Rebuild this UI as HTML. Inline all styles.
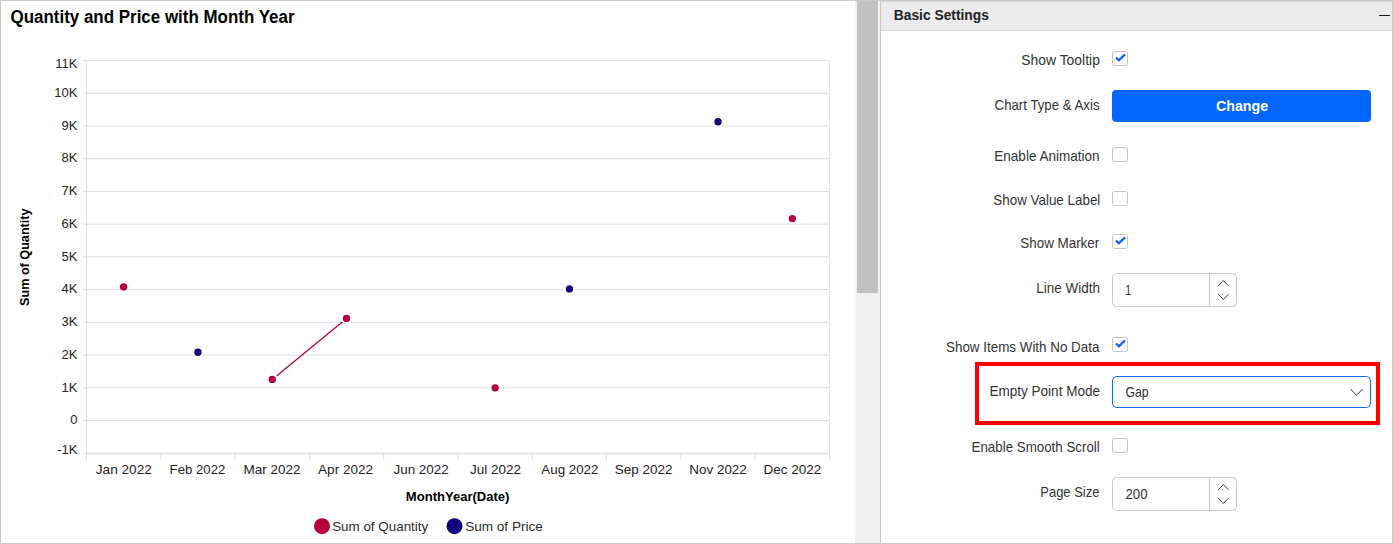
<!DOCTYPE html>
<html><head><meta charset="utf-8"><style>
html,body{margin:0;padding:0;background:#fff;overflow:hidden}
svg{display:block;font-family:"Liberation Sans", sans-serif}
</style></head><body>
<svg width="1393" height="544" viewBox="0 0 1393 544">
<rect x="0" y="0" width="1393" height="544" fill="#fff"/>
<text x="10.50" y="23" font-size="18.3" font-weight="bold" fill="#000" textLength="283.98" lengthAdjust="spacingAndGlyphs">Quantity and Price with Month Year</text>
<line x1="86.5" y1="453.23" x2="829.5" y2="453.23" stroke="#dedede" stroke-width="1"/>
<line x1="83.5" y1="453.23" x2="86.5" y2="453.23" stroke="#d6d6d6" stroke-width="1"/>
<line x1="86.5" y1="420.50" x2="829.5" y2="420.50" stroke="#dedede" stroke-width="1"/>
<line x1="83.5" y1="420.50" x2="86.5" y2="420.50" stroke="#d6d6d6" stroke-width="1"/>
<line x1="86.5" y1="387.77" x2="829.5" y2="387.77" stroke="#dedede" stroke-width="1"/>
<line x1="83.5" y1="387.77" x2="86.5" y2="387.77" stroke="#d6d6d6" stroke-width="1"/>
<line x1="86.5" y1="355.05" x2="829.5" y2="355.05" stroke="#dedede" stroke-width="1"/>
<line x1="83.5" y1="355.05" x2="86.5" y2="355.05" stroke="#d6d6d6" stroke-width="1"/>
<line x1="86.5" y1="322.32" x2="829.5" y2="322.32" stroke="#dedede" stroke-width="1"/>
<line x1="83.5" y1="322.32" x2="86.5" y2="322.32" stroke="#d6d6d6" stroke-width="1"/>
<line x1="86.5" y1="289.59" x2="829.5" y2="289.59" stroke="#dedede" stroke-width="1"/>
<line x1="83.5" y1="289.59" x2="86.5" y2="289.59" stroke="#d6d6d6" stroke-width="1"/>
<line x1="86.5" y1="256.86" x2="829.5" y2="256.86" stroke="#dedede" stroke-width="1"/>
<line x1="83.5" y1="256.86" x2="86.5" y2="256.86" stroke="#d6d6d6" stroke-width="1"/>
<line x1="86.5" y1="224.14" x2="829.5" y2="224.14" stroke="#dedede" stroke-width="1"/>
<line x1="83.5" y1="224.14" x2="86.5" y2="224.14" stroke="#d6d6d6" stroke-width="1"/>
<line x1="86.5" y1="191.41" x2="829.5" y2="191.41" stroke="#dedede" stroke-width="1"/>
<line x1="83.5" y1="191.41" x2="86.5" y2="191.41" stroke="#d6d6d6" stroke-width="1"/>
<line x1="86.5" y1="158.68" x2="829.5" y2="158.68" stroke="#dedede" stroke-width="1"/>
<line x1="83.5" y1="158.68" x2="86.5" y2="158.68" stroke="#d6d6d6" stroke-width="1"/>
<line x1="86.5" y1="125.95" x2="829.5" y2="125.95" stroke="#dedede" stroke-width="1"/>
<line x1="83.5" y1="125.95" x2="86.5" y2="125.95" stroke="#d6d6d6" stroke-width="1"/>
<line x1="86.5" y1="93.23" x2="829.5" y2="93.23" stroke="#dedede" stroke-width="1"/>
<line x1="83.5" y1="93.23" x2="86.5" y2="93.23" stroke="#d6d6d6" stroke-width="1"/>
<line x1="86.5" y1="60.50" x2="829.5" y2="60.50" stroke="#e6e6e6" stroke-width="1"/>
<line x1="83.5" y1="60.50" x2="86.5" y2="60.50" stroke="#d6d6d6" stroke-width="1"/>
<line x1="86.5" y1="60" x2="86.5" y2="454" stroke="#dedede" stroke-width="1"/>
<line x1="829.5" y1="60" x2="829.5" y2="454" stroke="#e6e6e6" stroke-width="1"/>
<line x1="86" y1="453.8" x2="830" y2="453.8" stroke="#dedede" stroke-width="1"/>
<line x1="86.50" y1="454" x2="86.50" y2="460" stroke="#dedede" stroke-width="1"/>
<line x1="160.80" y1="454" x2="160.80" y2="460" stroke="#dedede" stroke-width="1"/>
<line x1="235.10" y1="454" x2="235.10" y2="460" stroke="#dedede" stroke-width="1"/>
<line x1="309.40" y1="454" x2="309.40" y2="460" stroke="#dedede" stroke-width="1"/>
<line x1="383.70" y1="454" x2="383.70" y2="460" stroke="#dedede" stroke-width="1"/>
<line x1="458.00" y1="454" x2="458.00" y2="460" stroke="#dedede" stroke-width="1"/>
<line x1="532.30" y1="454" x2="532.30" y2="460" stroke="#dedede" stroke-width="1"/>
<line x1="606.60" y1="454" x2="606.60" y2="460" stroke="#dedede" stroke-width="1"/>
<line x1="680.90" y1="454" x2="680.90" y2="460" stroke="#dedede" stroke-width="1"/>
<line x1="755.20" y1="454" x2="755.20" y2="460" stroke="#dedede" stroke-width="1"/>
<line x1="829.50" y1="454" x2="829.50" y2="460" stroke="#dedede" stroke-width="1"/>
<text x="77.4" y="454.00" font-size="13" fill="#222" text-anchor="end">-1K</text>
<text x="77.4" y="424.30" font-size="13" fill="#222" text-anchor="end">0</text>
<text x="77.4" y="391.57" font-size="13" fill="#222" text-anchor="end">1K</text>
<text x="77.4" y="358.85" font-size="13" fill="#222" text-anchor="end">2K</text>
<text x="77.4" y="326.12" font-size="13" fill="#222" text-anchor="end">3K</text>
<text x="77.4" y="293.39" font-size="13" fill="#222" text-anchor="end">4K</text>
<text x="77.4" y="260.66" font-size="13" fill="#222" text-anchor="end">5K</text>
<text x="77.4" y="227.94" font-size="13" fill="#222" text-anchor="end">6K</text>
<text x="77.4" y="195.21" font-size="13" fill="#222" text-anchor="end">7K</text>
<text x="77.4" y="162.48" font-size="13" fill="#222" text-anchor="end">8K</text>
<text x="77.4" y="129.75" font-size="13" fill="#222" text-anchor="end">9K</text>
<text x="77.4" y="97.03" font-size="13" fill="#222" text-anchor="end">10K</text>
<text x="77.4" y="67.80" font-size="13" fill="#222" text-anchor="end">11K</text>
<text x="95.80" y="474" font-size="13" fill="#222" textLength="56.02" lengthAdjust="spacingAndGlyphs">Jan 2022</text>
<text x="169.59" y="474" font-size="13" fill="#222" textLength="55.75" lengthAdjust="spacingAndGlyphs">Feb 2022</text>
<text x="243.46" y="474" font-size="13" fill="#222" textLength="57.16" lengthAdjust="spacingAndGlyphs">Mar 2022</text>
<text x="318.10" y="474" font-size="13" fill="#222" textLength="54.90" lengthAdjust="spacingAndGlyphs">Apr 2022</text>
<text x="393.50" y="474" font-size="13" fill="#222" textLength="55.22" lengthAdjust="spacingAndGlyphs">Jun 2022</text>
<text x="469.90" y="474" font-size="13" fill="#222" textLength="51.06" lengthAdjust="spacingAndGlyphs">Jul 2022</text>
<text x="541.30" y="474" font-size="13" fill="#222" textLength="57.19" lengthAdjust="spacingAndGlyphs">Aug 2022</text>
<text x="614.86" y="474" font-size="13" fill="#222" textLength="57.73" lengthAdjust="spacingAndGlyphs">Sep 2022</text>
<text x="689.16" y="474" font-size="13" fill="#222" textLength="57.72" lengthAdjust="spacingAndGlyphs">Nov 2022</text>
<text x="763.56" y="474" font-size="13" fill="#222" textLength="57.72" lengthAdjust="spacingAndGlyphs">Dec 2022</text>
<text x="405.88" y="500.8" font-size="12.8" font-weight="bold" fill="#000" textLength="103.60" lengthAdjust="spacingAndGlyphs">MonthYear(Date)</text>
<text transform="translate(29.3,306.00) rotate(-90)" x="0" y="0" font-size="12.9" font-weight="bold" fill="#000" textLength="97.56" lengthAdjust="spacingAndGlyphs">Sum of Quantity</text>
<line x1="272.25" y1="379.4" x2="346.55" y2="318.4" stroke="#b5003c" stroke-width="1.3"/>
<circle cx="123.65" cy="286.9" r="4.7" fill="#b5003c" stroke="#fff" stroke-width="2"/>
<circle cx="197.95" cy="352.2" r="4.7" fill="#14007f" stroke="#fff" stroke-width="2"/>
<circle cx="272.25" cy="379.4" r="4.7" fill="#b5003c" stroke="#fff" stroke-width="2"/>
<circle cx="346.55" cy="318.4" r="4.7" fill="#b5003c" stroke="#fff" stroke-width="2"/>
<circle cx="495.15" cy="387.85" r="4.7" fill="#b5003c" stroke="#fff" stroke-width="2"/>
<circle cx="569.45" cy="288.9" r="4.7" fill="#14007f" stroke="#fff" stroke-width="2"/>
<circle cx="718.05" cy="121.7" r="4.7" fill="#14007f" stroke="#fff" stroke-width="2"/>
<circle cx="792.35" cy="218.6" r="4.7" fill="#b5003c" stroke="#fff" stroke-width="2"/>
<circle cx="322" cy="526.2" r="8" fill="#b5003c"/>
<text x="332.16" y="530.6" font-size="12.9" fill="#2a2a2a" textLength="96.05" lengthAdjust="spacingAndGlyphs">Sum of Quantity</text>
<circle cx="454.5" cy="526.2" r="8" fill="#14007f"/>
<text x="465.15" y="530.6" font-size="12.9" fill="#2a2a2a" textLength="77.69" lengthAdjust="spacingAndGlyphs">Sum of Price</text>
<rect x="855" y="1" width="25" height="542" fill="#f0f0f0"/>
<rect x="857" y="1" width="21" height="292" fill="#c1c1c1"/>
<rect x="880" y="1" width="1" height="542" fill="#c8c8c8"/>
<rect x="881" y="1" width="511" height="29" fill="#ebebeb"/>
<rect x="881" y="1" width="511" height="1" fill="#d2d2d2"/>
<rect x="881" y="30" width="511" height="1" fill="#cfcfcf"/>
<text x="893.75" y="20.1" font-size="14.5" font-weight="bold" fill="#222" textLength="95.18" lengthAdjust="spacingAndGlyphs">Basic Settings</text>
<rect x="1379" y="15" width="11" height="1" fill="#1a1a1a"/>
<rect x="0.5" y="0.5" width="1392" height="543" fill="none" stroke="#c8c8c8" stroke-width="1"/>
<text x="1021.20" y="64.8" font-size="13.9" fill="#333" textLength="78.72" lengthAdjust="spacingAndGlyphs">Show Tooltip</text>
<rect x="1112.5" y="51.5" width="15" height="14" rx="2" fill="#fff" stroke="#c4c4c4" stroke-width="1"/>
<polyline points="1116,57.5 1119,60.3 1125,54.4" fill="none" stroke="#0d5eff" stroke-width="2.2"/>
<text x="994.60" y="109.9" font-size="13.9" fill="#333" textLength="104.95" lengthAdjust="spacingAndGlyphs">Chart Type &amp; Axis</text>
<rect x="1112" y="90" width="259" height="32" rx="4" fill="#0566ff"/>
<text x="1216.00" y="110.7" font-size="14.9" font-weight="bold" fill="#fff" textLength="52.08" lengthAdjust="spacingAndGlyphs">Change</text>
<text x="994.33" y="160.8" font-size="13.9" fill="#333" textLength="105.19" lengthAdjust="spacingAndGlyphs">Enable Animation</text>
<rect x="1112.5" y="147.5" width="15" height="14" rx="2" fill="#fff" stroke="#c4c4c4" stroke-width="1"/>
<text x="993.34" y="204.8" font-size="13.9" fill="#333" textLength="106.98" lengthAdjust="spacingAndGlyphs">Show Value Label</text>
<rect x="1112.5" y="191.5" width="15" height="14" rx="2" fill="#fff" stroke="#c4c4c4" stroke-width="1"/>
<text x="1020.34" y="247.8" font-size="13.9" fill="#333" textLength="78.90" lengthAdjust="spacingAndGlyphs">Show Marker</text>
<rect x="1112.5" y="234.5" width="15" height="14" rx="2" fill="#fff" stroke="#c4c4c4" stroke-width="1"/>
<polyline points="1116,240.5 1119,243.3 1125,237.4" fill="none" stroke="#0d5eff" stroke-width="2.2"/>
<text x="1036.33" y="292.9" font-size="13.9" fill="#333" textLength="63.69" lengthAdjust="spacingAndGlyphs">Line Width</text>
<rect x="1112.5" y="273.5" width="124" height="33" rx="4" fill="#fff" stroke="#c8c8c8" stroke-width="1"/>
<line x1="1209.5" y1="274" x2="1209.5" y2="306" stroke="#c8c8c8" stroke-width="1"/>
<polyline points="1218,286 1223.3,280.5 1228.6,286" fill="none" stroke="#444" stroke-width="1"/>
<polyline points="1218,294 1223.3,299.5 1228.6,294" fill="none" stroke="#444" stroke-width="1"/>
<text x="1124.98" y="295" font-size="13.9" fill="#333" textLength="6.32" lengthAdjust="spacingAndGlyphs">1</text>
<text x="946.04" y="351.7" font-size="13.9" fill="#333" textLength="153.39" lengthAdjust="spacingAndGlyphs">Show Items With No Data</text>
<rect x="1112.5" y="337.5" width="15" height="14" rx="2" fill="#fff" stroke="#c4c4c4" stroke-width="1"/>
<polyline points="1116,343.5 1119,346.3 1125,340.4" fill="none" stroke="#0d5eff" stroke-width="2.2"/>
<text x="989.42" y="395.9" font-size="13.9" fill="#333" textLength="110.66" lengthAdjust="spacingAndGlyphs">Empty Point Mode</text>
<rect x="977" y="364" width="401" height="59" fill="none" stroke="#ff0000" stroke-width="4"/>
<rect x="1112.5" y="376.5" width="258" height="31" rx="4" fill="#fff" stroke="#1466ff" stroke-width="1"/>
<text x="1125.40" y="396.6" font-size="13.9" fill="#333" textLength="23.23" lengthAdjust="spacingAndGlyphs">Gap</text>
<polyline points="1350.5,389 1356.5,395.3 1362.5,389" fill="none" stroke="#333" stroke-width="1"/>
<text x="971.54" y="451.9" font-size="13.9" fill="#333" textLength="128.21" lengthAdjust="spacingAndGlyphs">Enable Smooth Scroll</text>
<rect x="1112.5" y="438.5" width="15" height="14" rx="2" fill="#fff" stroke="#c4c4c4" stroke-width="1"/>
<text x="1040.26" y="497" font-size="13.9" fill="#333" textLength="59.24" lengthAdjust="spacingAndGlyphs">Page Size</text>
<rect x="1112.5" y="477.5" width="124" height="33" rx="4" fill="#fff" stroke="#c8c8c8" stroke-width="1"/>
<line x1="1209.5" y1="478" x2="1209.5" y2="510" stroke="#c8c8c8" stroke-width="1"/>
<polyline points="1218,490 1223.3,484.5 1228.6,490" fill="none" stroke="#444" stroke-width="1"/>
<polyline points="1218,498 1223.3,503.5 1228.6,498" fill="none" stroke="#444" stroke-width="1"/>
<text x="1125.50" y="499.1" font-size="13.9" fill="#333" textLength="22.08" lengthAdjust="spacingAndGlyphs">200</text>
</svg>
</body></html>
